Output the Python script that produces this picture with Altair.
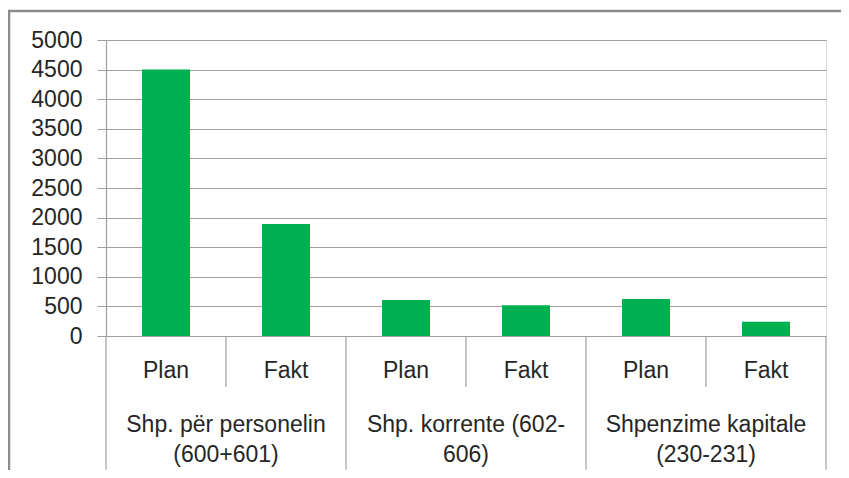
import altair as alt
import pandas as pd

groups = ["Shp. për personelin\n(600+601)", "Shp. korrente (602-\n606)", "Shpenzime kapitale\n(230-231)"]
series = ["Plan", "Fakt"]
values = [4500, 1890, 610, 520, 625, 240]
y_ticks = list(range(0, 5001, 500))

FONT = "Liberation Sans, Arial, sans-serif"
TXT = "#262626"
GRID = "#a0a0a0"
W, H = 720, 296

rows = []
i = 0
for g in groups:
    for s in series:
        rows.append({"group": g, "series": s, "value": values[i],
                     "x0": i + 0.3, "x1": i + 0.7, "mid": i + 0.5})
        i += 1
df = pd.DataFrame(rows)

gdf = pd.DataFrame({"group": groups, "mid": [1 + 2 * k for k in range(len(groups))]})
sub_div = pd.DataFrame({"pos": [1 + 2 * k for k in range(len(groups))]})
grp_div = pd.DataFrame({"pos": [2 * k for k in range(len(groups) + 1)]})

xs = alt.Scale(domain=[0, 6], nice=False, zero=False)

bars = alt.Chart(df).mark_bar(color="#00B050").encode(
    x=alt.X("x0:Q", scale=xs, axis=None),
    x2="x1:Q",
    y=alt.Y("value:Q", scale=alt.Scale(domain=[0, 5000], nice=False),
            axis=alt.Axis(values=y_ticks, title=None, grid=True, gridColor=GRID,
                          domainColor=GRID, tickColor=GRID, tickSize=9, format="d",
                          labelPadding=15, labelFont=FONT, labelFontSize=23,
                          labelColor=TXT, domainWidth=1.2, gridWidth=1.2)),
    y2=alt.datum(0),
)

sub_labels = alt.Chart(df).mark_text(font=FONT, fontSize=23, color=TXT,
                                     baseline="alphabetic", align="center").encode(
    x=alt.X("mid:Q", scale=xs),
    y=alt.value(H + 42),
    text="series:N",
)

grp_labels = alt.Chart(gdf).mark_text(font=FONT, fontSize=23, color=TXT,
                                      baseline="alphabetic", align="center",
                                      lineBreak="\n", lineHeight=30).encode(
    x=alt.X("mid:Q", scale=xs),
    y=alt.value(H + 96),
    text="group:N",
)

sub_rules = alt.Chart(sub_div).mark_rule(color=GRID, strokeWidth=1.2).encode(
    x=alt.X("pos:Q", scale=xs),
    y=alt.value(H),
    y2=alt.value(H + 51),
)

grp_rules = alt.Chart(grp_div).mark_rule(color=GRID, strokeWidth=1.2).encode(
    x=alt.X("pos:Q", scale=xs),
    y=alt.value(H),
    y2=alt.value(H + 136),
)

border = alt.Chart(pd.DataFrame({"a": [0]})).mark_rect(
    fill=None, stroke="#8c8c8c", strokeWidth=2.5).encode(
    x=alt.value(-97), x2=alt.value(800),
    y=alt.value(-29), y2=alt.value(500),
)

chart = alt.layer(border, bars, sub_rules, grp_rules, sub_labels, grp_labels).properties(
    width=W, height=H,
    autosize=alt.AutoSizeParams(type="none"),
    padding={"left": 98, "top": 32, "right": 15, "bottom": 134},
).configure_view(stroke=None).configure(background="white")

chart.save("out.html", embed_options={"renderer": "svg", "actions": False})
